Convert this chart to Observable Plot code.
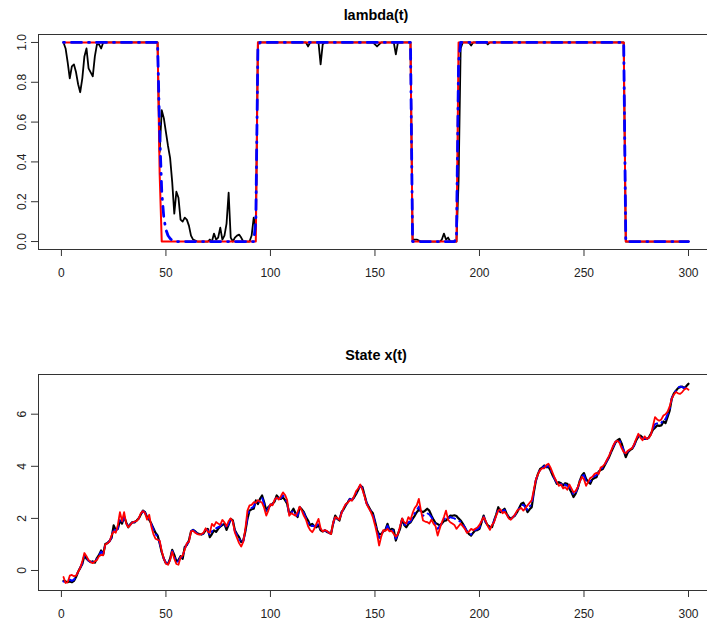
<!DOCTYPE html>
<html><head><meta charset="utf-8">
<script src="https://cdn.jsdelivr.net/npm/d3@7"></script>
<script src="https://cdn.jsdelivr.net/npm/@observablehq/plot@0.6"></script>
<style>
html,body{margin:0;padding:0;background:#fff;overflow:hidden;}
#wrap{width:707px;height:625px;overflow:hidden;background:#fff;}
#wrap svg{display:block;}
</style></head><body><div id="wrap"></div>
<script>
// time index
const tIndex = d3.range(1, 301);
const xTicks = [0, 50, 100, 150, 200, 250, 300];
const lambdaTicks = [0, 0.2, 0.4, 0.6, 0.8, 1.0];
const stateTicks = [0, 2, 4, 6];
const titles = ["lambda(t)", "State x(t)"];

// ---- lambda(t) panel (one row = 20 time steps) ----
const lambdaRed = [
1,1,1,1,1,1,1,1,1,1, 1,1,1,1,1,1,1,1,1,1,          // 1-20
1,1,1,1,1,1,1,1,1,1, 1,1,1,1,1,1,1,1,1,1,          // 21-40
1,1,1,1,1,1,0.34,0,0,0, 0,0,0,0,0,0,0,0,0,0,       // 41-60
0,0,0,0,0,0,0,0,0,0, 0,0,0,0,0,0,0,0,0,0,          // 61-80
0,0,0,0,0,0,0,0,0,0, 0,0,0,1,1,1,1,1,1,1,          // 81-100
1,1,1,1,1,1,1,1,1,1, 1,1,1,1,1,1,1,1,1,1,          // 101-120
1,1,1,1,1,1,1,1,1,1, 1,1,1,1,1,1,1,1,1,1,          // 121-140
1,1,1,1,1,1,1,1,1,1, 1,1,1,1,1,1,1,1,1,1,          // 141-160
1,1,1,1,1,1,1,0,0,0, 0,0,0,0,0,0,0,0,0,0,          // 161-180
0,0,0,0,0,0,0,0,0,1, 1,1,1,1,1,1,1,1,1,1,          // 181-200
1,1,1,1,1,1,1,1,1,1, 1,1,1,1,1,1,1,1,1,1,          // 201-220
1,1,1,1,1,1,1,1,1,1, 1,1,1,1,1,1,1,1,1,1,          // 221-240
1,1,1,1,1,1,1,1,1,1, 1,1,1,1,1,1,1,1,1,1,          // 241-260
1,1,1,1,1,1,1,1,1,0, 0,0,0,0,0,0,0,0,0,0,          // 261-280
0,0,0,0,0,0,0,0,0,0, 0,0,0,0,0,0,0,0,0,0           // 281-300
];
const lambdaBlue = [
1,1,1,1,1,1,1,1,1,1, 1,1,1,1,1,1,1,1,1,1,
1,1,1,1,1,1,1,1,1,1, 1,1,1,1,1,1,1,1,1,1,
1,1,1,1,1,1,0.55,0.25,0.12,0.06, 0.03,0.015,0.005,0,0,0,0,0,0,0,
0,0,0,0,0,0,0,0,0,0, 0,0,0,0,0,0,0,0,0,0,
0,0,0,0,0,0,0,0,0,0, 0,0,0.1,0.97,1,1,1,1,1,1,
1,1,1,1,1,1,1,1,1,1, 1,1,1,1,1,1,1,1,1,1,
1,1,1,1,1,1,1,1,1,1, 1,1,1,1,1,1,1,1,1,1,
1,1,1,1,1,1,1,1,1,1, 1,1,1,1,1,1,1,1,1,1,
1,1,1,1,1,1,1,0,0,0, 0,0,0,0,0,0,0,0,0,0,
0,0,0,0,0,0,0,0,0.02,0.9, 1,1,1,1,1,1,1,1,1,1,
1,1,1,1,1,1,1,1,1,1, 1,1,1,1,1,1,1,1,1,1,
1,1,1,1,1,1,1,1,1,1, 1,1,1,1,1,1,1,1,1,1,
1,1,1,1,1,1,1,1,1,1, 1,1,1,1,1,1,1,1,1,1,
1,1,1,1,1,1,1,1,1,0, 0,0,0,0,0,0,0,0,0,0,
0,0,0,0,0,0,0,0,0,0, 0,0,0,0,0,0,0,0,0,0
];
const lambdaBlack = [
1,0.97,0.9,0.82,0.88,0.89,0.85,0.79,0.75,0.82, 0.93,0.97,0.87,0.85,0.83,0.93,0.99,0.99,0.97,1,
1,1,1,1,1,1,1,1,1,1, 1,1,1,1,1,1,1,1,1,1,
1,1,1,1,1,1,0.45,0.66,0.62,0.55, 0.48,0.42,0.3,0.14,0.25,0.22,0.11,0.1,0.12,0.11,
0.08,0.03,0.01,0.005,0,0,0,0,0,0, 0.01,0,0.04,0.01,0.02,0.07,0.01,0.03,0.09,0.245,
0.02,0,0.02,0.03,0.035,0.02,0,0,0,0, 0.03,0.12,0.06,1,1,1,1,1,1,1,
1,1,1,1,1,1,1,1,1,1, 1,1,1,1,1,1,1,0.98,1,1,
1,1,1,0.89,0.99,1,1,1,1,1, 1,1,1,1,1,1,1,1,1,1,
1,1,1,1,1,1,1,1,1,0.99, 0.98,0.99,1,1,1,1,1,1,1,0.94,
1,1,1,1,1,1,1,0.01,0.01,0.01, 0.005,0,0,0,0,0,0,0,0,0,
0,0.01,0.04,0.01,0.02,0,0,0,0,0.3, 0.97,1,1,1,1,0.985,1,1,1,1,
1,1,1,0.99,1,1,1,1,1,1, 1,1,1,1,1,1,1,1,1,1,
1,1,1,1,1,1,1,1,1,1, 1,1,1,1,1,1,1,1,1,1,
1,1,1,1,1,1,1,1,1,1, 1,1,1,1,1,1,1,1,1,1,
1,1,1,1,1,1,1,1,1,0, 0,0,0,0,0,0,0,0,0,0,
0,0,0,0,0,0,0,0,0,0, 0,0,0,0,0,0,0,0,0,0
];

// ---- State x(t) panel (one row = 10 time steps) ----
const stateBlack = [
-0.40,-0.42,-0.45,-0.42,-0.45,-0.40,-0.25,-0.05,0.10,0.25,
0.58,0.45,0.38,0.32,0.35,0.30,0.48,0.60,0.77,0.62,
1.02,1.05,1.13,1.25,1.73,1.55,1.60,1.92,1.80,2.07,
1.85,1.66,1.78,1.86,1.85,1.92,2.00,2.15,2.30,2.24,
2.05,1.95,1.80,1.62,1.45,1.35,1.05,0.70,0.45,0.28,
0.25,0.45,0.79,0.60,0.35,0.40,0.55,0.45,0.90,0.98,
1.15,1.50,1.56,1.50,1.43,1.40,1.38,1.42,1.55,1.60,
1.28,1.40,1.54,1.48,1.60,1.69,1.74,1.79,1.56,1.75,
1.98,1.92,1.54,1.40,1.28,1.09,1.15,1.50,1.98,2.30,
2.35,2.37,2.69,2.55,2.75,2.88,2.62,2.30,2.43,2.50,
2.56,2.65,2.88,2.78,2.75,2.81,2.70,2.56,2.18,2.24,
2.37,2.20,2.05,2.43,2.35,2.24,2.05,1.92,1.73,1.79,
1.70,1.66,1.75,1.54,1.50,1.54,1.48,1.45,1.41,1.80,
2.11,1.98,1.92,2.24,2.35,2.50,2.62,2.75,2.70,2.80,
2.94,3.10,3.26,3.20,2.90,2.60,2.45,2.30,2.20,1.90,
1.55,1.38,1.40,1.50,1.56,1.79,1.54,1.60,1.56,1.15,
1.40,1.60,1.98,1.75,1.66,1.79,1.85,1.98,2.10,2.24,
2.33,2.28,2.24,2.30,2.37,2.30,2.11,1.95,1.82,1.78,
1.73,1.80,1.90,1.92,2.00,2.11,2.10,2.12,2.09,2.00,
1.92,1.80,1.66,1.50,1.40,1.34,1.45,1.54,1.55,1.60,
1.85,2.11,1.85,1.73,1.68,1.66,1.92,2.15,2.43,2.24,
2.30,2.37,2.18,2.05,1.98,2.05,2.11,2.24,2.40,2.56,
2.60,2.45,2.24,2.35,2.43,3.00,3.45,3.71,3.90,3.95,
4.03,3.97,3.98,3.84,3.65,3.50,3.33,3.39,3.35,3.26,
3.35,3.33,3.15,3.00,2.82,2.95,3.15,3.45,3.65,3.74,
3.52,3.40,3.33,3.50,3.55,3.58,3.80,3.86,3.90,4.05,
4.20,4.35,4.55,4.72,4.90,5.00,5.05,4.88,4.60,4.35,
4.54,4.62,4.67,4.80,5.00,5.14,5.18,5.10,5.05,5.05,
5.10,5.25,5.40,5.48,5.57,5.55,5.57,5.72,5.66,5.90,
6.14,6.60,6.80,6.90,7.00,7.04,7.06,7.00,7.08,7.17
];
const stateBlue = [
-0.42,-0.43,-0.40,-0.35,-0.40,-0.35,-0.22,-0.05,0.10,0.28,
0.56,0.48,0.38,0.33,0.32,0.31,0.45,0.58,0.72,0.65,
1.00,1.05,1.12,1.28,1.62,1.52,1.62,1.95,1.85,2.05,
1.82,1.66,1.76,1.85,1.86,1.92,2.00,2.15,2.28,2.22,
2.02,1.98,1.78,1.58,1.40,1.30,1.08,0.72,0.45,0.30,
0.24,0.42,0.75,0.55,0.32,0.35,0.52,0.50,0.85,1.00,
1.12,1.50,1.55,1.48,1.42,1.40,1.39,1.42,1.57,1.55,
1.35,1.50,1.58,1.62,1.66,1.70,1.80,1.80,1.62,1.80,
1.98,1.90,1.50,1.35,1.22,1.05,1.12,1.52,2.05,2.35,
2.40,2.45,2.65,2.60,2.72,2.80,2.55,2.25,2.40,2.52,
2.55,2.68,2.85,2.76,2.78,2.88,2.78,2.60,2.15,2.22,
2.30,2.15,2.10,2.43,2.33,2.20,2.00,1.85,1.68,1.72,
1.70,1.72,1.80,1.58,1.50,1.54,1.50,1.45,1.40,1.80,
2.08,2.00,1.94,2.22,2.36,2.52,2.62,2.74,2.70,2.82,
2.98,3.12,3.27,3.15,2.88,2.58,2.43,2.28,2.15,1.85,
1.50,1.25,1.38,1.52,1.55,1.72,1.52,1.57,1.50,1.22,
1.42,1.65,1.98,1.78,1.70,1.85,1.88,2.05,2.20,2.32,
2.45,2.25,2.10,2.15,2.20,2.15,2.05,1.90,1.78,1.60,
1.70,1.82,1.95,2.05,2.00,2.05,2.02,2.00,1.95,1.90,
1.88,1.78,1.65,1.50,1.42,1.38,1.48,1.56,1.58,1.65,
1.86,2.08,1.86,1.72,1.64,1.70,1.90,2.12,2.38,2.28,
2.28,2.32,2.18,2.03,1.97,2.05,2.13,2.26,2.38,2.50,
2.52,2.42,2.32,2.45,2.55,3.05,3.48,3.70,3.88,3.94,
4.00,3.98,4.02,3.88,3.68,3.52,3.36,3.33,3.33,3.22,
3.30,3.25,3.22,3.08,2.90,3.00,3.18,3.42,3.62,3.66,
3.42,3.40,3.42,3.55,3.62,3.66,3.75,3.90,3.95,4.07,
4.22,4.38,4.58,4.76,4.93,5.00,5.00,4.82,4.60,4.45,
4.57,4.64,4.68,4.82,5.02,5.18,5.14,5.06,5.08,5.05,
5.10,5.22,5.45,5.62,5.65,5.62,5.66,5.82,5.80,6.00,
6.20,6.62,6.80,6.90,7.02,7.06,7.04,7.00,7.05,7.12
];
const stateRed = [
-0.25,-0.48,-0.45,-0.20,-0.17,-0.22,-0.20,-0.05,0.10,0.35,
0.67,0.55,0.40,0.33,0.28,0.35,0.40,0.55,0.60,0.58,
1.00,1.05,1.10,1.35,1.50,1.45,1.75,2.24,1.90,2.24,
1.80,1.66,1.75,1.85,1.88,1.90,2.00,2.20,2.28,2.20,
1.95,2.14,1.70,1.40,1.22,1.18,1.15,0.75,0.45,0.26,
0.22,0.40,0.72,0.45,0.25,0.22,0.50,0.58,0.80,1.05,
1.10,1.50,1.52,1.45,1.40,1.38,1.40,1.45,1.62,1.50,
1.45,1.79,1.70,1.86,1.80,1.75,1.94,1.85,1.70,1.90,
2.00,1.88,1.45,1.25,1.05,0.92,1.10,1.60,2.30,2.50,
2.52,2.62,2.60,2.70,2.65,2.60,2.40,2.11,2.30,2.55,
2.50,2.72,2.80,2.72,2.85,3.00,2.90,2.70,2.10,2.20,
2.15,2.10,2.25,2.45,2.30,2.10,1.95,1.70,1.55,1.47,
1.60,1.80,1.98,1.62,1.50,1.55,1.52,1.45,1.40,1.85,
2.05,2.02,1.95,2.20,2.40,2.55,2.60,2.70,2.68,2.85,
3.05,3.15,3.30,3.10,2.85,2.55,2.40,2.25,2.05,1.75,
1.40,0.96,1.30,1.55,1.52,1.60,1.50,1.52,1.40,1.30,
1.40,1.70,2.00,1.85,1.80,2.05,1.95,2.20,2.40,2.50,
2.75,2.30,1.92,1.88,1.86,1.80,1.95,1.80,1.70,1.34,
1.60,1.85,2.05,2.30,1.95,1.85,1.80,1.75,1.60,1.70,
1.80,1.70,1.60,1.45,1.50,1.60,1.55,1.60,1.65,1.75,
1.90,2.05,1.90,1.70,1.56,1.75,1.85,2.10,2.30,2.35,
2.20,2.25,2.15,2.00,1.95,2.05,2.15,2.30,2.35,2.40,
2.30,2.40,2.50,2.60,2.70,3.10,3.50,3.70,3.85,3.92,
3.92,4.05,4.10,3.95,3.75,3.55,3.40,3.25,3.30,3.15,
3.20,3.10,3.30,3.15,3.00,3.05,3.20,3.40,3.60,3.50,
3.25,3.40,3.55,3.60,3.70,3.75,3.70,3.95,4.00,4.10,
4.25,4.40,4.60,4.80,4.95,4.98,4.90,4.70,4.55,4.50,
4.60,4.65,4.70,4.85,5.05,5.25,5.10,5.00,5.15,5.05,
5.10,5.20,5.55,5.89,5.80,5.75,5.80,5.95,6.00,6.10,
6.30,6.60,6.75,6.85,6.80,6.78,6.85,6.95,7.00,6.94
];

const FONT = "'Liberation Sans', Arial, Helvetica, sans-serif";
const W = 713, ML = 38, MR = 0;
const xDomain = [1 - 0.04 * 299, 300 + 0.04 * 299];

function panel({title, height, marginTop, marginBottom, yDomain, yTicks, yFormat, layers}) {
  return Plot.plot({
    width: W, height, marginLeft: ML, marginRight: MR, marginTop, marginBottom,
    style: {fontFamily: FONT, fontSize: "12px", color: "#333", background: "#fff", maxWidth: "none", overflow: "visible"},
    x: {domain: xDomain, label: null},
    y: {domain: yDomain, label: null},
    marks: [
      ...layers,
      Plot.frame({stroke: "#333", strokeWidth: 1}),
      Plot.axisX({ticks: xTicks, tickSize: 7, tickPadding: 12, label: null, fill: "#222", fontSize: 12}),
      Plot.axisY({ticks: yTicks, tickFormat: yFormat, tickSize: 7, tickPadding: 6, tickRotate: -90, label: null, fill: "#222", fontSize: 12}),
      Plot.text([title], {frameAnchor: "top", dy: -24.9, text: d => d, fontWeight: "bold", fontSize: 14.4, fill: "#000"})
    ]
  });
}

const lambdaPlot = panel({
  title: titles[0], height: 312, marginTop: 34, marginBottom: 63,
  yDomain: [-0.04, 1.04], yTicks: lambdaTicks, yFormat: d3.format(".1f"),
  layers: [
    Plot.line(tIndex, {x: tIndex, y: lambdaBlack, stroke: "#000", strokeWidth: 1.8}),
    Plot.line(tIndex, {x: tIndex, y: lambdaRed, stroke: "#ff0000", strokeWidth: 2}),
    Plot.line(tIndex, {x: tIndex, y: lambdaBlue, stroke: "#0000ff", strokeWidth: 2.8, strokeDasharray: "1,7,10,7"})
  ]
});
const statePlot = panel({
  title: titles[1], height: 313, marginTop: 62, marginBottom: 35,
  yDomain: [-0.768, 7.524], yTicks: stateTicks, yFormat: d3.format("d"),
  layers: [
    Plot.line(tIndex, {x: tIndex, y: stateBlack, stroke: "#000", strokeWidth: 2.2}),
    Plot.line(tIndex, {x: tIndex, y: stateBlue, stroke: "#0000ff", strokeWidth: 2, strokeDasharray: "1,5,7,5"}),
    Plot.line(tIndex, {x: tIndex, y: stateRed, stroke: "#ff0000", strokeWidth: 1.8})
  ]
});
const wrap = document.getElementById("wrap");
wrap.appendChild(lambdaPlot);
wrap.appendChild(statePlot);
</script></body></html>
